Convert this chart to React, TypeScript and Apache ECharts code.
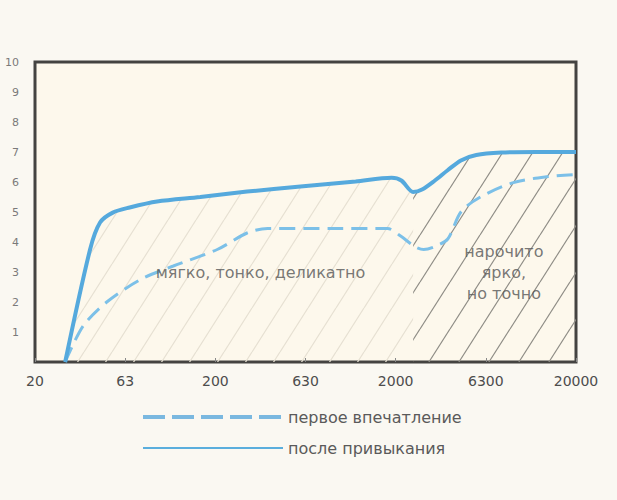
import React, { useEffect, useRef } from "react";
import * as echarts from "echarts";

// ---- data ----
const xTickLabels = ["20", "63", "200", "630", "2000", "6300", "20000"];
const yTickLabels = ["", "1", "2", "3", "4", "5", "6", "7", "8", "9", "10"];

const dashedName = "первое впечатление";
const solidName = "после привыкания";

const solidFreq = [29.4, 40.4, 45.9, 54, 67, 95, 165, 300, 593, 1200, 1900, 2150, 2500, 2800, 3300, 3900, 4600, 5600, 7700, 12000, 20000];
const solidValue = [0, 3.75, 4.65, 4.98, 5.15, 5.35, 5.5, 5.68, 5.85, 6.02, 6.14, 6.05, 5.67, 5.75, 6.05, 6.4, 6.72, 6.9, 6.98, 7.0, 7.0];

const dashedFreq = [29.4, 37, 50, 77, 117, 205, 300, 390, 900, 1800, 2130, 2550, 2860, 3300, 3890, 4600, 5900, 9000, 14000, 20000];
const dashedValue = [0, 1.2, 2.0, 2.75, 3.2, 3.75, 4.3, 4.45, 4.45, 4.45, 4.2, 3.85, 3.75, 3.85, 4.1, 5.0, 5.5, 5.98, 6.18, 6.25];

const hatchSplitFreq = 2500;

const noteFreq = [356, 7960];
const noteValue = [3.0, 3.0];
const noteText = ["мягко, тонко, деликатно", "нарочито\nярко,\nно точно"];

// frequency -> position on a half-decade axis (20 Hz = 0, 63 Hz = 1, ...)
const toPos = (f: number) => 2 * Math.log10(f / 20);

function makeHatch(color: string, lw: number, w: number, h: number) {
  const c = document.createElement("canvas");
  c.width = w;
  c.height = h;
  const ctx = c.getContext("2d")!;
  ctx.strokeStyle = color;
  ctx.lineWidth = lw;
  for (const dx of [-w, 0, w]) {
    ctx.beginPath();
    ctx.moveTo(dx, h);
    ctx.lineTo(dx + w, 0);
    ctx.stroke();
  }
  return { image: c, repeat: "repeat", imageWidth: w, imageHeight: h } as any;
}

export default function App() {
  const ref = useRef<HTMLDivElement>(null);

  useEffect(() => {
    document.body.style.margin = "0";
    const chart = echarts.init(ref.current!, null, { renderer: "svg" });

    const solid = solidFreq.map((f, i) => [toPos(f), solidValue[i]]);
    const dashed = dashedFreq.map((f, i) => [toPos(f), dashedValue[i]]);
    const pairs = solidFreq.map((f, i) => ({ f, p: [toPos(f), solidValue[i]] }));
    const hatchLight = pairs.filter((d) => d.f <= hatchSplitFreq).map((d) => d.p);
    const hatchDark = pairs.filter((d) => d.f >= hatchSplitFreq).map((d) => d.p);
    const notes = noteFreq.map((f, i) => ({ value: [toPos(f), noteValue[i]], name: noteText[i] }));

    const lightPattern = makeHatch("#e6e0d2", 1.2, 28, 44);
    const darkPattern = makeHatch("#8e8c85", 1.2, 30, 47);

    chart.setOption({
      animation: false,
      backgroundColor: "#faf8f2",
      textStyle: { fontFamily: "DejaVu Sans" },
      grid: {
        left: 35,
        right: 41,
        top: 62,
        bottom: 138,
        show: true,
        borderColor: "#444341",
        borderWidth: 3,
        backgroundColor: "#fdf8ec",
      },
      xAxis: {
        type: "value",
        min: 0,
        max: 6,
        interval: 1,
        axisLine: { show: false },
        splitLine: { show: false },
        axisTick: { show: true, inside: true, length: 4, lineStyle: { color: "#888" } },
        axisLabel: {
          margin: 12,
          fontSize: 14,
          color: "#4d4d4d",
          fontFamily: "DejaVu Sans",
          formatter: (v: number) => xTickLabels[Math.round(v)] ?? "",
        },
      },
      yAxis: {
        type: "value",
        min: 0,
        max: 10,
        interval: 1,
        axisLine: { show: false },
        splitLine: { show: false },
        axisTick: { show: false },
        axisLabel: {
          margin: 16,
          fontSize: 11,
          color: "#7a7a7a",
          fontFamily: "DejaVu Sans",
          formatter: (v: number) => yTickLabels[Math.round(v)] ?? "",
        },
      },
      legend: {
        orient: "vertical",
        left: 136,
        top: 404,
        itemWidth: 140,
        itemHeight: 14,
        itemGap: 15,
        itemStyle: { opacity: 0 },
        textStyle: { fontSize: 16, color: "#5a5a5a", fontFamily: "DejaVu Sans" },
        data: [
          { name: dashedName, itemStyle: { opacity: 0 }, lineStyle: { type: [22, 7], width: 4, color: "#7ab8e0" } },
          { name: solidName, itemStyle: { opacity: 0 }, lineStyle: { width: 2, color: "#5aaedd" } },
        ],
      },
      series: [
        {
          name: "hatchLight",
          type: "line",
          data: hatchLight,
          symbol: "none",
          smooth: 0.3,
          silent: true,
          z: 1,
          lineStyle: { width: 0, opacity: 0 },
          areaStyle: { color: lightPattern, opacity: 1 },
        },
        {
          name: "hatchDark",
          type: "line",
          data: hatchDark,
          symbol: "none",
          smooth: 0.3,
          silent: true,
          z: 1,
          lineStyle: { width: 0, opacity: 0 },
          areaStyle: { color: darkPattern, opacity: 1 },
        },
        {
          name: dashedName,
          type: "line",
          data: dashed,
          symbol: "none",
          smooth: 0.3,
          z: 3,
          color: "#7ab8e0",
          lineStyle: { color: "#7cc0e8", width: 3, type: [16, 8] },
        },
        {
          name: solidName,
          type: "line",
          data: solid,
          symbol: "none",
          smooth: 0.3,
          z: 4,
          color: "#5aaedd",
          lineStyle: { color: "#55a9dd", width: 4 },
        },
        {
          name: "notes",
          type: "scatter",
          data: notes,
          symbolSize: 0,
          silent: true,
          z: 5,
          label: {
            show: true,
            position: "inside",
            formatter: "{b}",
            fontSize: 16,
            lineHeight: 21,
            align: "center",
            color: "#555",
            fontFamily: "DejaVu Sans",
          },
        },
      ],
    });

    return () => chart.dispose();
  }, []);

  return (
    <div
      ref={ref}
      style={{ position: "fixed", left: 0, top: 0, width: 617, height: 500, background: "#faf8f2" }}
    />
  );
}
